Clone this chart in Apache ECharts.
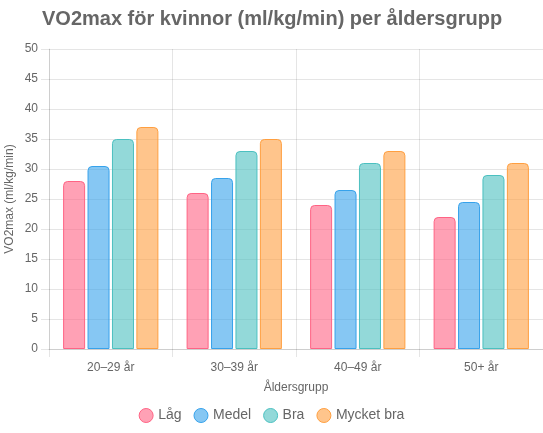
<!DOCTYPE html>
<html>
<head>
<meta charset="utf-8">
<script src="https://cdn.jsdelivr.net/npm/echarts@6/dist/echarts.min.js"></script>
<style>html,body{margin:0;padding:0;background:#fff}#c{width:543px;height:433px}</style>
</head>
<body>
<div id="c"></div>
<script>
const categories = ['20–29 år', '30–39 år', '40–49 år', '50+ år'];
const seriesNames = ['Låg', 'Medel', 'Bra', 'Mycket bra'];
const lag = [28, 26, 24, 22];
const medel = [30.5, 28.5, 26.5, 24.5];
const bra = [35, 33, 31, 29];
const mycketBra = [37, 35, 33, 31];
const yTicks = [0, 5, 10, 15, 20, 25, 30, 35, 40, 45, 50];

const values = [lag, medel, bra, mycketBra];
const fills = ['rgba(255,99,132,0.6)', 'rgba(54,162,235,0.6)', 'rgba(75,192,192,0.6)', 'rgba(255,159,64,0.6)'];
const borders = ['rgb(255,99,132)', 'rgb(54,162,235)', 'rgb(75,192,192)', 'rgb(255,159,64)'];
const font = '"Liberation Sans", Arial, Helvetica, sans-serif';
const gridColor = 'rgba(0,0,0,0.1)';

const chart = echarts.init(document.getElementById('c'), null, {renderer: 'canvas'});
chart.setOption({
  animation: false,
  textStyle: {fontFamily: font},
  title: {
    text: 'VO2max för kvinnor (ml/kg/min) per åldersgrupp',
    left: 37, top: 4,
    textStyle: {fontSize: 20, fontWeight: 'bold', color: '#666', fontFamily: font}
  },
  legend: {
    bottom: 5, left: 'center',
    icon: 'circle', itemWidth: 14, itemHeight: 14, itemGap: 12,
    textStyle: {fontSize: 14, color: '#666', fontFamily: font},
    data: seriesNames.map((n, i) => ({name: n, itemStyle: {color: fills[i], borderColor: borders[i], borderWidth: 1}}))
  },
  grid: {left: 49, right: 0, top: 49, bottom: 84, containLabel: false, outerBoundsMode: 'none'},
  xAxis: {
    type: 'category', data: categories,
    name: 'Åldersgrupp', nameLocation: 'middle', nameGap: 33, nameMoveOverlap: false,
    nameTextStyle: {fontSize: 12, color: '#666'},
    axisLine: {show: true, lineStyle: {color: gridColor}},
    axisTick: {show: true, length: 8, lineStyle: {color: gridColor}},
    axisLabel: {fontSize: 12, color: '#666', margin: 13},
    splitLine: {show: true, lineStyle: {color: gridColor}}
  },
  yAxis: {
    type: 'value', min: yTicks[0], max: yTicks[yTicks.length - 1], interval: 5,
    name: 'VO2max (ml/kg/min)', nameLocation: 'middle', nameGap: 33, nameMoveOverlap: false,
    nameTextStyle: {fontSize: 12, color: '#666'},
    axisLine: {show: true, lineStyle: {color: gridColor}},
    axisTick: {show: true, length: 8, lineStyle: {color: gridColor}},
    axisLabel: {fontSize: 12, color: '#666', margin: 11},
    splitLine: {show: true, lineStyle: {color: gridColor}}
  },
  series: values.map((v, i) => ({
    name: seriesNames[i], type: 'bar', data: v,
    barWidth: 22, barGap: '11%',
    itemStyle: {color: fills[i], borderColor: borders[i], borderWidth: 1, borderRadius: [4, 4, 0, 0]}
  }))
});
</script>
</body>
</html>
